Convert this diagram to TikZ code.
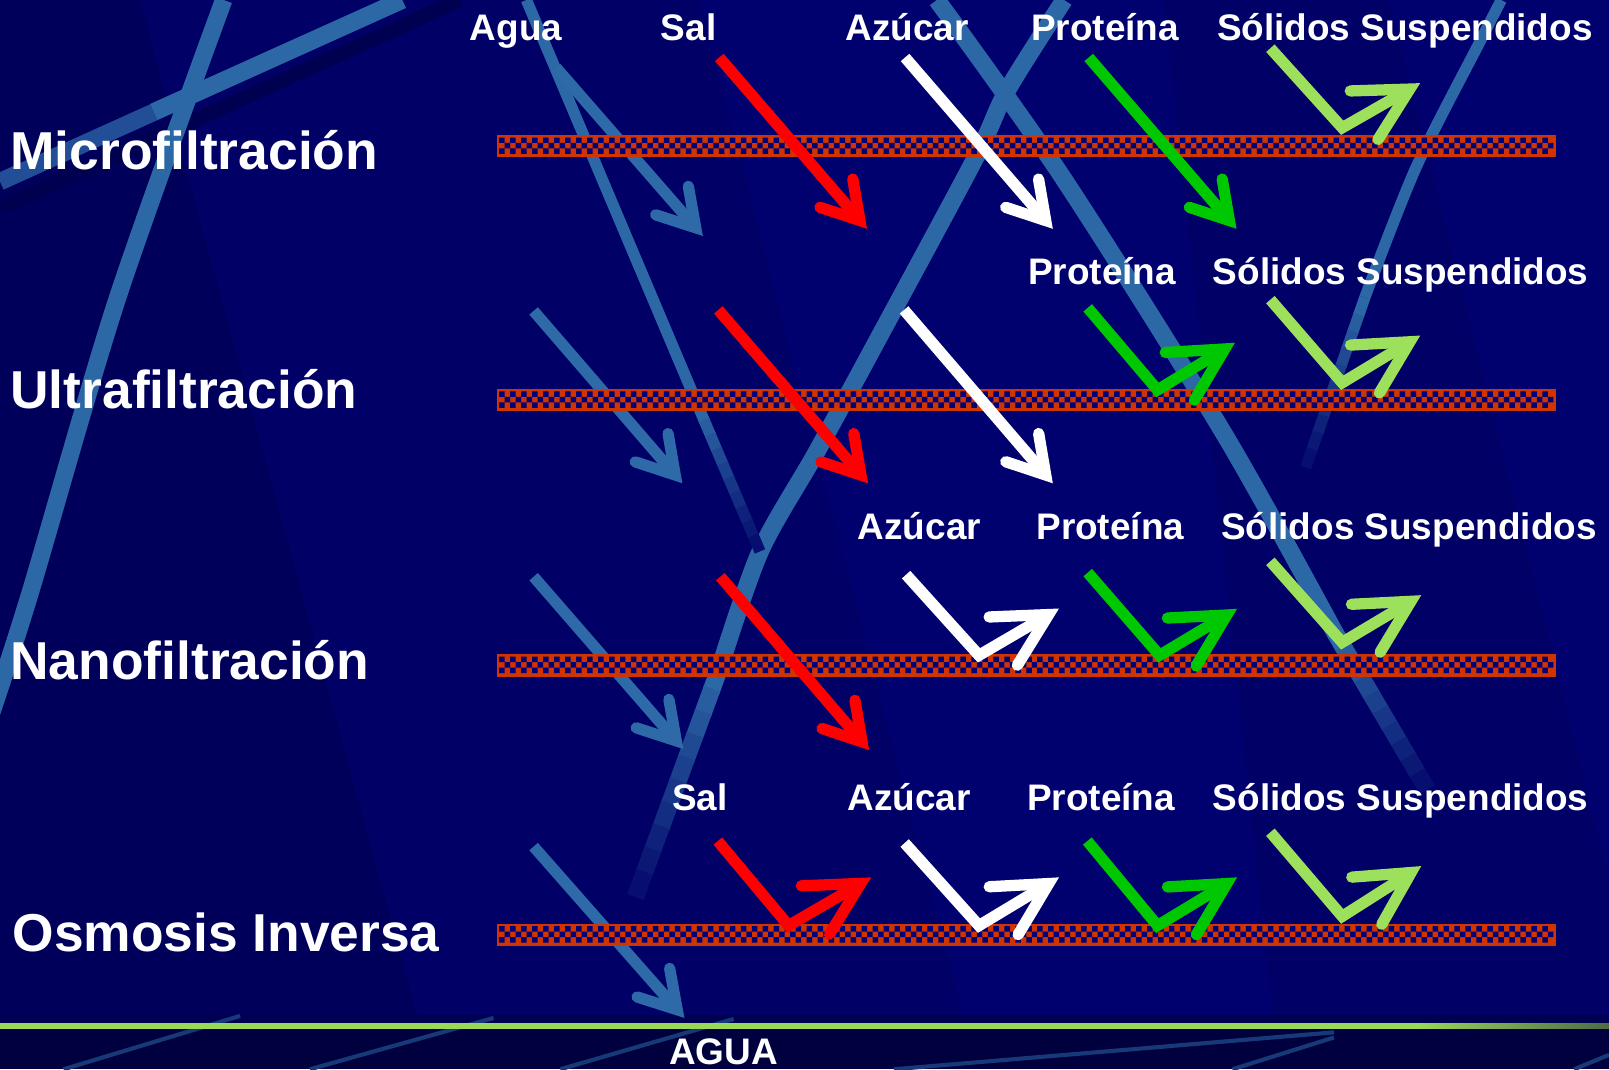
\documentclass[tikz,border=0pt]{standalone}
\usepackage{fontspec}
\setmainfont{Liberation Sans}
\usetikzlibrary{calc}
\definecolor{bgnavy}{HTML}{000066}
\definecolor{bgdark}{HTML}{00005A}
\definecolor{bglight}{HTML}{00006E}
\definecolor{bgshadow}{HTML}{000050}
\definecolor{streak}{HTML}{2C68A6}
\definecolor{memorange}{HTML}{D03400}
\definecolor{memnavy}{HTML}{000078}
\definecolor{aguablue}{HTML}{2E6AA8}
\definecolor{salred}{HTML}{FF0000}
\definecolor{protgreen}{HTML}{00C800}
\definecolor{solgreen}{HTML}{9CE05C}
\definecolor{bandtop}{HTML}{000050}
\definecolor{bandnavy}{HTML}{00003E}
\definecolor{bandline}{HTML}{9AD85A}
\definecolor{bandlinedark}{HTML}{4E6A46}

% straight arrow: name, colour, start, outer tip
\newcommand\straightarrow[4]{%
  \coordinate (#1s) at (#3);
  \coordinate (#1t) at (#4);
  \coordinate (#1v) at ($(#1t)!10.7pt!(#1s)$);
  \draw[shaft=#2] (#1s) -- (#1v);
  \draw[barb=#2] ($(#1v)!41pt!31:(#1s)$) -- (#1v) -- ($(#1v)!41pt!-31:(#1s)$);
}
% bounce arrow: name, colour, start, bottom vertex, outer tip
\newcommand\bouncearrow[5]{%
  \coordinate (#1s) at (#3);
  \coordinate (#1b) at (#4);
  \coordinate (#1t) at (#5);
  \coordinate (#1v) at ($(#1t)!11.7pt!(#1b)$);
  \draw[shaft=#2] (#1s) -- (#1b) -- (#1v);
  \draw[barb=#2] ($(#1v)!58pt!28:(#1b)$) -- (#1v) -- ($(#1v)!58pt!-28:(#1b)$);
}
% membrane bar: name, top y
\newcommand\membrane[2]{%
  \node[membar] (#1) at (484,#2) {};
  \fill[memnavy] \foreach \i in {0,2,...,190}{ ({486.5+\i*5.35},{#2+2.5}) rectangle ++(5.35,5.33) ({486.5+\i*5.35},{#2+13.16}) rectangle ++(5.35,5.33) };
  \fill[memnavy] \foreach \i in {1,3,...,191}{ ({486.5+\i*5.35},{#2+7.83}) rectangle ++(5.35,5.33) };
}
% fading end of a streak: from, to, width
\newcommand\fadestreak[3]{%
  \foreach \k in {0,...,9}{%
    \pgfmathtruncatemacro\pc{100-\k*9.5}%
    \draw[line width=#3, draw=streak!\pc!bgnavy] ($(#1)!\k/10!(#2)$) -- ($(#1)!\k/10+0.11!(#2)$);
  }%
}

\begin{document}
\begin{tikzpicture}[x=1pt,y=-1pt,
  streakline/.style={draw=streak, line width=#1, line cap=butt},
  shaft/.style={draw=#1, line width=11pt, line cap=butt, line join=miter},
  barb/.style={draw=#1, line width=11pt, line cap=round, line join=miter},
  toplabel/.style={text=white, font=\bfseries\fontsize{36}{36}\selectfont, anchor=base, inner sep=0pt},
  rowlabel/.style={text=white, font=\bfseries\fontsize{52}{52}\selectfont, anchor=base west, inner sep=0pt},
  membar/.style={draw=memorange, fill=memorange, line width=0.5pt, minimum width=1031pt, minimum height=21pt, inner sep=0pt, anchor=north west},
  bandstreak/.style={draw=streak!55!bandnavy, line width=4pt}]

\useasboundingbox (0,0) rectangle (1568,1042);
\clip (0,0) rectangle (1568,1042);

% ---------- background ----------
\fill[bgnavy] (0,0) rectangle (1568,1042);
\fill[bgdark] (0,0) -- (136,0) -- (406,989) -- (0,989) -- cycle;
\fill[bglight] (681,0) -- (1134,0) -- (1240,989) -- (938,989) -- cycle;
\fill[bglight] (1353,0) -- (1568,0) -- (1568,860) -- cycle;

% streaks
\draw[bgshadow, line width=14] (0,203) -- (448,0);
\draw[streakline=17, draw=streak!75!bgnavy] (0,177) -- (392,0);
\draw[streakline=17] (150,109) -- (392,0);
\draw[streakline=17] plot[smooth, tension=0.5] coordinates {(218,0) (114,292) (29,579) (-10,700)};
\draw[streakline=17] plot[smooth, tension=0.5] coordinates {(1037,0) (981,89) (951,153) (858,326) (796,440) (741,537) (702,649)};
\coordinate (l3a) at (702,649); \coordinate (l3b) at (620,872);
\fadestreak{l3a}{l3b}{17}
\draw[streakline=17] plot[smooth, tension=0.5] coordinates {(913,0) (1035,172) (1193,423) (1300,615)};
\coordinate (l4a) at (1300,615); \coordinate (l4b) at (1390,768);
\fadestreak{l4a}{l4b}{17}
\draw[streakline=11] plot[smooth, tension=0.5] coordinates {(1463,0) (1442,41) (1380,163) (1330,290)};
\coordinate (l5a) at (1330,290); \coordinate (l5b) at (1273,454);
\fadestreak{l5a}{l5b}{11}
\draw[streakline=11] (513,0) -- (680,395);
\coordinate (l6a) at (680,395); \coordinate (l6b) at (740,536);
\fadestreak{l6a}{l6b}{11}

% bottom band
\fill[bandtop] (0,989) rectangle (1568,997);
\fill[bandnavy] (0,1002) rectangle (1568,1042);
\draw[bandstreak] (62,1042) -- (234,990);
\draw[bandstreak] (302,1042) -- (481,992);
\draw[bandstreak] (546,1042) -- (715,993);
\draw[bandstreak] (871,1042) -- (1300,1006);
\draw[bandstreak] (1201,1042) -- (1300,1011);
\draw[bandstreak] (1534,1042) -- (1568,1028);
\fill[bandline] (0,997) rectangle (1380,1002.5);
\shade[left color=bandline, right color=bandlinedark] (1380,997) rectangle (1568,1002.5);

% ---------- water arrows (behind membranes) ----------
\straightarrow{aw1}{aguablue}{542,66}{685,230}
\straightarrow{aw2}{aguablue}{520,303}{665,471}
\straightarrow{aw3}{aguablue}{520,562}{666,730}
\straightarrow{aw4}{aguablue}{520,825}{667,992}

% ---------- membranes ----------
\membrane{mem1}{131.5}
\membrane{mem2}{379}
\membrane{mem3}{637.5}
\membrane{mem4}{900}

% ---------- passing arrows ----------
\straightarrow{sa1}{salred}{701,56}{845,223}
\straightarrow{az1}{white}{882,56}{1026,223}
\straightarrow{pr1}{protgreen}{1061,56}{1205,223}
\straightarrow{sa2}{salred}{700,302}{846,471}
\straightarrow{az2}{white}{881,302}{1026,471}
\straightarrow{sa3}{salred}{702,562}{847,731}

% ---------- retained (bouncing) arrows ----------
\bouncearrow{so1}{solgreen}{1238,47}{1308,124.5}{1384,81}
\bouncearrow{pr2}{protgreen}{1060,300}{1128,380}{1203.5,334}
\bouncearrow{so2}{solgreen}{1238,292}{1308,373}{1384,327}
\bouncearrow{az3}{white}{883,560}{954,638.6}{1032,593}
\bouncearrow{pr3}{protgreen}{1060,558}{1130,638.6}{1205.6,593.3}
\bouncearrow{so3}{solgreen}{1238,547}{1308,626}{1385,580}
\bouncearrow{sa4}{salred}{699.5,819.6}{768.5,902}{849,855}
\bouncearrow{az4}{white}{881.6,821.5}{954,902}{1032,855}
\bouncearrow{pr4}{protgreen}{1059.6,819.6}{1128,902}{1205.6,855}
\bouncearrow{so4}{solgreen}{1238,811}{1308,893}{1385,844}

% ---------- labels ----------
\node[rowlabel] (mf) at (10,165.5) {Microfiltración};
\node[rowlabel] (uf) at (10,398.5) {Ultrafiltración};
\node[rowlabel] (nf) at (10,662.5) {Nanofiltración};
\node[rowlabel] (oi) at (12,927.5) {Osmosis Inversa};

\node[toplabel] (t1a) at (503,39) {Agua};
\node[toplabel] (t1b) at (671,39) {Sal};
\node[toplabel] (t1c) at (884,39) {Azúcar};
\node[toplabel] (t1d) at (1077,39) {Proteína};
\node[toplabel] (t1e) at (1369,39) {Sólidos Suspendidos};

\node[toplabel] (t2d) at (1074,277.5) {Proteína};
\node[toplabel] (t2e) at (1365,277.5) {Sólidos Suspendidos};

\node[toplabel] (t3c) at (896,526) {Azúcar};
\node[toplabel] (t3d) at (1082,526) {Proteína};
\node[toplabel] (t3e) at (1373,526) {Sólidos Suspendidos};

\node[toplabel] (t4b) at (682,790) {Sal};
\node[toplabel] (t4c) at (886,790) {Azúcar};
\node[toplabel] (t4d) at (1073,790) {Proteína};
\node[toplabel] (t4e) at (1365,790) {Sólidos Suspendidos};

\node[toplabel] (agua) at (705,1037) {AGUA};
\end{tikzpicture}
\end{document}
